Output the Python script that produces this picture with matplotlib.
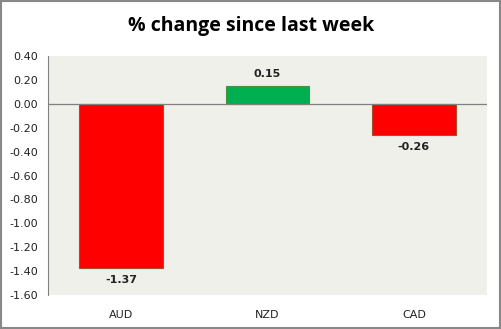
import matplotlib.pyplot as plt
from matplotlib.patches import Rectangle

currencies = ['AUD', 'NZD', 'CAD']
changes = [-1.37, 0.15, -0.26]
bar_colors = ['#FF0000', '#00B050', '#FF0000']
edge_colors = ['#A0522D', '#4F8F3F', '#A0522D']
yticks = [0.40, 0.20, 0.00, -0.20, -0.40, -0.60, -0.80, -1.00, -1.20, -1.40, -1.60]

fig = plt.figure(figsize=(5.02, 3.29), dpi=100)
fig.patch.set_facecolor('white')
fig.patches.append(Rectangle((0.002, 0.003), 0.994, 0.994, transform=fig.transFigure,
                             fill=False, edgecolor='#888888', linewidth=1.5))

ax = fig.add_axes([0.0956, 0.1033, 0.8745, 0.7265])
ax.set_facecolor('#EEF0E9')

x = range(len(currencies))
ax.bar(x, changes, width=0.57, color=bar_colors, edgecolor=edge_colors, linewidth=0.8, zorder=2)
ax.axhline(0, color='#808080', linewidth=0.9, zorder=3)

for i, v in enumerate(changes):
    off = 0.06 if v > 0 else -0.06
    ax.text(i, v + off, f'{v:.2f}', ha='center', va='bottom' if v > 0 else 'top',
            fontsize=8, fontweight='bold', color='#222222')

ax.set_xlim(-0.5, 2.5)
ax.set_ylim(-1.6, 0.4)
ax.set_yticks(yticks)
ax.set_yticklabels([f'{t:.2f}' for t in yticks], fontsize=8)
ax.set_xticks(list(x))
ax.set_xticklabels(currencies, fontsize=8)
ax.tick_params(axis='both', length=0, pad=7, colors='#222222')
ax.tick_params(axis='x', pad=11)

for s in ['top', 'right', 'bottom']:
    ax.spines[s].set_visible(False)
ax.spines['left'].set_color('#808080')

fig.text(0.5, 0.921, '% change since last week', ha='center', va='center',
         fontsize=14, fontweight='bold', family='Open Sans')

fig.savefig('out.png', dpi=100)
